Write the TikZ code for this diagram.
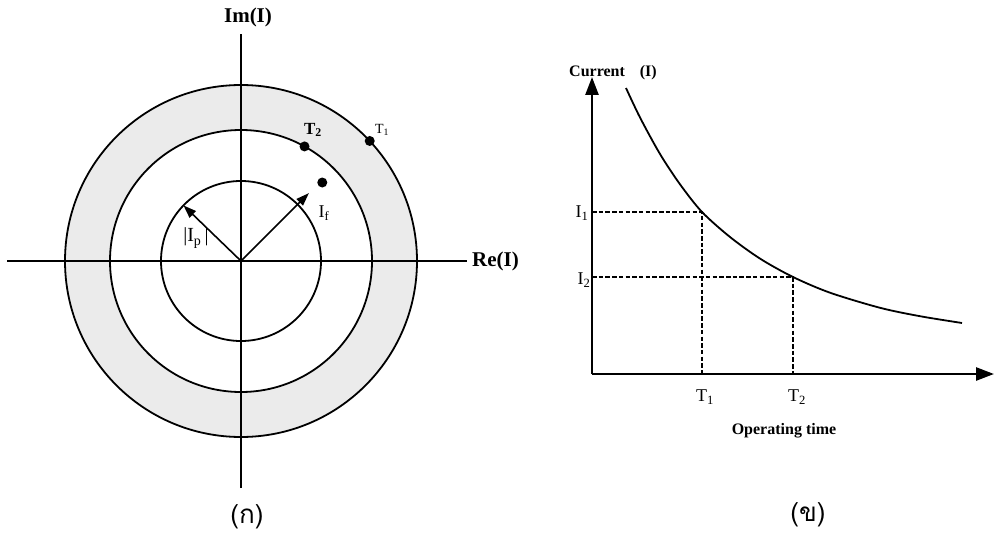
\documentclass[tikz,border=0pt]{standalone}
\usepackage{fontspec}
\setmainfont{Liberation Serif}
\newfontfamily\thaifont[Script=Thai]{Loma}
\usetikzlibrary{arrows.meta,positioning,calc}
\tikzset{
  axis/.style={line width=2.6pt, draw=black},
  axisarrow/.style={axis, -{Triangle[length=18pt,width=13pt]}},
  ring/.style={line width=1.8pt, draw=black},
  phasor/.style={line width=1.6pt, -{Triangle[length=13pt,width=9pt]}},
  curve/.style={line width=1.8pt, draw=black},
  dropline/.style={line width=2.2pt, dash pattern=on 4.5pt off 2.2pt},
  spot/.style={circle, fill=black, inner sep=0pt, minimum size=10pt},
  biglabel/.style={font=\fontsize{21}{21}\selectfont\bfseries, inner sep=0pt},
  boldlabel/.style={font=\fontsize{16}{16}\selectfont\bfseries, inner sep=0pt},
  textlabel/.style={font=\fontsize{18}{18}\selectfont, inner sep=0pt},
  caption/.style={font=\fontsize{26}{26}\selectfont\thaifont, inner sep=0pt}
}

\begin{document}
\begin{tikzpicture}[x=1pt,y=-1pt]
\useasboundingbox (0,0) rectangle (995,540);
% (ก) phasor plane
\coordinate (O) at (241,261);
\coordinate (imTop) at (241,34);
\coordinate (imBot) at (241,488);
\coordinate (reL) at (7,261);
\coordinate (reR) at (467,261);
\fill[black!8, even odd rule] (O) circle[radius=176pt] (O) circle[radius=131pt];
\draw[ring] (O) circle[radius=80pt];
\draw[ring] (O) circle[radius=131pt];
\draw[ring] (O) circle[radius=176pt];
\draw[axis] (reL) -- (reR);
\draw[axis] (imBot) -- (imTop);
\node[biglabel] (imlab) at (248,17) {Im(I)};
\node[biglabel, right=5pt of reR] (relab) {Re(I)};

\coordinate (ipTip) at ($(O)+(-136:80)$);
\coordinate (ifTip) at ($(O)+(-45:96)$);
\draw[phasor] (O) -- (ipTip);
\draw[phasor] (O) -- (ifTip);
\node[spot] (ifDot) at ($(O)+(-44:113)$) {};
\node[spot] (t2Dot) at ($(O)+(-61:131)$) {};
\node[spot] (t1Dot) at ($(O)+(-43:176)$) {};
\node[textlabel, font=\fontsize{20}{20}\selectfont] (iplab) at (196,238) {|I\textsubscript{p}\,|};
\node[textlabel] (iflab) at (324,213) {I\textsubscript{f}};
\node[boldlabel, font=\fontsize{17}{17}\selectfont\bfseries] (t2lab) at (313,130) {T\textsubscript{2}};
\node[textlabel, font=\fontsize{14}{14}\selectfont] (t1lab) at (382,130) {T\textsubscript{1}};
\node[caption] (capA) at (247,517) {(ก)};

% (ข) time-current curve
\coordinate (C) at (592,374);
\coordinate (yTop) at (592,77);
\coordinate (xEnd) at (994,374);
\draw[axisarrow] (C) -- (yTop);
\draw[axisarrow] (C) -- (xEnd);
\node[boldlabel] (curlab) at (613,73) {Current\hspace{15pt}(I)};
\draw[curve] plot[smooth] coordinates {(626,88) (640,117.5) (660,154) (680,184.3) (702,212)
  (730,237) (760,258.6) (793,277) (830,292.7) (880,307.8) (920,316.2) (962,323)};
\coordinate (k1) at (702,212);
\coordinate (k2) at (793,277);
\draw[dropline] (k1 -| C) -- (k1) -- (k1 |- C);
\draw[dropline] (k2 -| C) -- (k2) -- (k2 |- C);
\node[textlabel] (i1lab) at (582,213) {I\textsubscript{1}};
\node[textlabel] (i2lab) at (584,280) {I\textsubscript{2}};
\node[textlabel] (t1ax) at (705,397) {T\textsubscript{1}};
\node[textlabel] (t2ax) at (797,397) {T\textsubscript{2}};
\node[boldlabel] (oplab) at (784,431) {Operating time};
\node[caption] (capB) at (808,515) {(ข)};
\end{tikzpicture}
\end{document}
